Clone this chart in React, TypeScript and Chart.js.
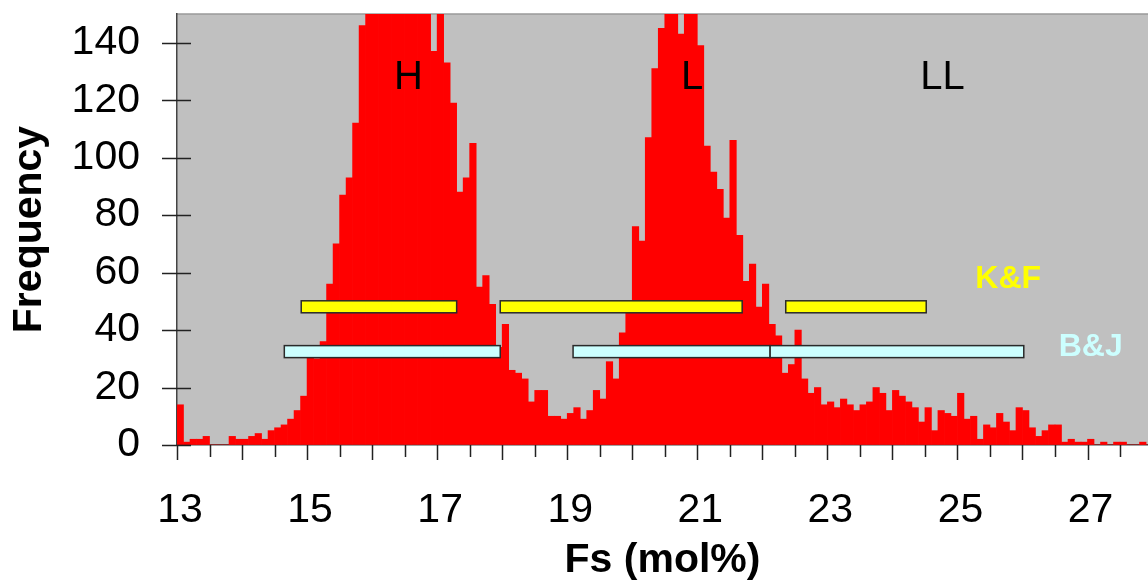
import React, { useEffect, useRef } from 'react';
import { Chart, registerables } from 'chart.js';

Chart.register(...registerables);

// ---- data ----
const BIN_START = 13;
const BIN_WIDTH = 0.1;
// frequency per 0.1 mol% bin, starting at 13.0
const FREQUENCY = [
  14, 1, 2, 2, 3, 0, 0, 0, 3, 2,
  2, 3, 4, 2, 5, 6, 7, 9, 12, 17,
  31, 30, 36, 56, 70, 87, 93, 112, 146, 158,
  165, 172, 168, 178, 175, 170, 163, 160, 155, 137,
  153, 133, 119, 88, 93, 105, 55, 59, 49, 34,
  42, 26, 25, 23, 15, 19, 19, 10, 10, 9,
  11, 13, 9, 12, 19, 16, 29, 23, 39, 47,
  76, 71, 107, 131, 145, 152, 156, 143, 158, 155,
  139, 104, 95, 89, 79, 106, 73, 57, 63, 48,
  56, 42, 38, 25, 28, 40, 23, 18, 20, 14,
  15, 13, 16, 14, 12, 14, 15, 20, 18, 12,
  19, 17, 15, 13, 8, 13, 5, 12, 11, 10,
  18, 9, 10, 2, 7, 6, 11, 8, 5, 13,
  12, 6, 3, 5, 7, 7, 1, 2, 1, 1,
  2, 0, 1, 0, 1, 1, 0, 0, 1, 0,
];

const KF_LEVEL = 48.1;
const KF_RANGES: [number, number][] = [[14.91, 17.30], [17.97, 21.69], [22.36, 24.52]];
const BJ_LEVEL = 32.5;
const BJ_RANGES: [number, number][] = [[14.65, 17.97], [19.09, 22.12], [22.12, 26.02]];

const X_MIN = 13;
const X_MAX = 27.93;
const X_STEP = 0.5;
const Y_MIN = 0;
const Y_MAX = 150;
const Y_STEP = 20;

const PEAK_LABELS = [
  { text: 'H', x: 16.56, y: 123.8 },
  { text: 'L', x: 20.92, y: 123.8 },
  { text: 'LL', x: 24.77, y: 123.8 },
];
const METHOD_LABELS = [
  { text: 'K&F', x: 25.78, y: 54.5, color: '#FFFF00' },
  { text: 'B&J', x: 27.05, y: 31.0, color: '#CCFFFF' },
];

const FONT = '"Liberation Sans", Arial, Helvetica, sans-serif';

const histData = FREQUENCY.map((v, i) => ({ x: BIN_START + BIN_WIDTH * (i + 0.5), y: v }));
const RANGE_SETS = [
  { level: KF_LEVEL, ranges: KF_RANGES, color: '#FFFF00' },
  { level: BJ_LEVEL, ranges: BJ_RANGES, color: '#CCFFFF' },
];
const RANGE_THICKNESS = 12;

const decorPlugin = {
  id: 'decor',
  beforeDraw(chart: any) {
    const { ctx, chartArea } = chart;
    const { left, top, right, bottom } = chartArea;
    ctx.save();
    ctx.fillStyle = '#C0C0C0';
    ctx.fillRect(left, top, right - left, bottom - top);
    ctx.strokeStyle = '#9A9A9A';
    ctx.lineWidth = 1.5;
    ctx.beginPath();
    ctx.moveTo(left, top);
    ctx.lineTo(right, top);
    ctx.stroke();
    ctx.restore();
  },
  afterDatasetsDraw(chart: any) {
    const { ctx } = chart;
    const xs = chart.scales.x;
    const ys = chart.scales.y;
    ctx.save();
    ctx.lineWidth = 1.5;
    ctx.strokeStyle = '#2a2a2a';
    RANGE_SETS.forEach((set) => {
      const cy = ys.getPixelForValue(set.level);
      set.ranges.forEach(([a, b]) => {
        const x0 = xs.getPixelForValue(a);
        const x1 = xs.getPixelForValue(b);
        ctx.fillStyle = set.color;
        ctx.fillRect(x0, cy - RANGE_THICKNESS / 2, x1 - x0, RANGE_THICKNESS);
        ctx.strokeRect(x0, cy - RANGE_THICKNESS / 2, x1 - x0, RANGE_THICKNESS);
      });
    });
    ctx.restore();
  },
  afterDraw(chart: any) {
    const { ctx, chartArea } = chart;
    const xs = chart.scales.x;
    const ys = chart.scales.y;
    ctx.save();
    ctx.strokeStyle = '#222';
    ctx.lineWidth = 1.5;
    ctx.beginPath();
    ys.ticks.forEach((_t: any, i: number) => {
      const py = Math.round(ys.getPixelForTick(i)) + 0.5;
      ctx.moveTo(chartArea.left - 15, py);
      ctx.lineTo(chartArea.left + 14, py);
    });
    xs.ticks.forEach((t: any, i: number) => {
      const px = Math.round(xs.getPixelForTick(i)) + 0.5;
      const major = Math.abs(t.value - Math.round(t.value)) < 1e-9;
      ctx.moveTo(px, chartArea.bottom);
      ctx.lineTo(px, chartArea.bottom + (major ? 15 : 12));
    });
    ctx.stroke();

    ctx.textAlign = 'center';
    ctx.textBaseline = 'alphabetic';
    ctx.fillStyle = '#000';
    ctx.font = `normal 40px ${FONT}`;
    PEAK_LABELS.forEach((l) => {
      ctx.fillText(l.text, xs.getPixelForValue(l.x), ys.getPixelForValue(l.y));
    });
    ctx.font = `bold 32px ${FONT}`;
    METHOD_LABELS.forEach((l) => {
      ctx.fillStyle = l.color;
      ctx.fillText(l.text, xs.getPixelForValue(l.x), ys.getPixelForValue(l.y));
    });
    ctx.restore();
  },
};

export default function App() {
  const canvasRef = useRef<HTMLCanvasElement | null>(null);

  useEffect(() => {
    const canvas = canvasRef.current;
    if (!canvas) return;
    const chart = new Chart(canvas, {
      type: 'bar',
      data: {
        datasets: [
          {
            label: 'Frequency',
            data: histData as any,
            backgroundColor: '#FF0000',
            borderWidth: 0,
            barPercentage: 1,
            categoryPercentage: 1,
            clip: 0,
          } as any,
        ],
      },
      options: {
        animation: false,
        responsive: true,
        maintainAspectRatio: false,
        events: [],
        layout: { padding: { top: 14, right: 0, bottom: 0, left: 0 } },
        plugins: {
          legend: { display: false },
          tooltip: { enabled: false },
        },
        scales: {
          x: {
            type: 'linear',
            position: 'bottom',
            min: X_MIN,
            max: X_MAX,
            offset: false,
            grid: { display: true, drawOnChartArea: false, drawTicks: false, offset: false },
            border: { display: true, color: '#444', width: 1.5 },
            ticks: {
              stepSize: X_STEP,
              includeBounds: false,
              autoSkip: false,
              maxRotation: 0,
              minRotation: 0,
              padding: 41,
              labelOffset: 3,
              color: '#000',
              font: { family: FONT, size: 41 },
              callback: (v: any) => {
                const n = Number(v);
                const r = Math.round(n);
                return Math.abs(n - r) < 1e-9 && Math.abs(r % 2) === 1 ? String(r) : '';
              },
            },
            title: {
              display: true,
              text: 'Fs (mol%)',
              color: '#000',
              font: { family: FONT, size: 41, weight: 'bold', lineHeight: 1 },
              padding: { top: 0, bottom: 1.5 },
            },
            afterFit: (s: any) => {
              s.height = 138;
              s.paddingLeft = 0;
              s.paddingRight = 0;
            },
          },
          y: {
            type: 'linear',
            position: 'left',
            min: Y_MIN,
            max: Y_MAX,
            grid: { display: true, drawOnChartArea: false, drawTicks: false },
            border: { display: true, color: '#444', width: 1.5 },
            ticks: {
              stepSize: Y_STEP,
              includeBounds: false,
              autoSkip: false,
              padding: 37,
              color: '#000',
              font: { family: FONT, size: 41 },
            },
            title: {
              display: true,
              text: 'Frequency',
              color: '#000',
              font: { family: FONT, size: 41, weight: 'bold', lineHeight: 1 },
              padding: { top: 9.5, bottom: 0 },
            },
            afterFit: (s: any) => {
              s.width = 177;
              s.paddingTop = 0;
              s.paddingBottom = 0;
            },
          },
        },
      } as any,
      plugins: [decorPlugin],
    });
    return () => chart.destroy();
  }, []);

  return (
    <div style={{ position: 'fixed', left: 0, top: 0, width: 1148, height: 583, background: '#fff' }}>
      <canvas ref={canvasRef} />
    </div>
  );
}
